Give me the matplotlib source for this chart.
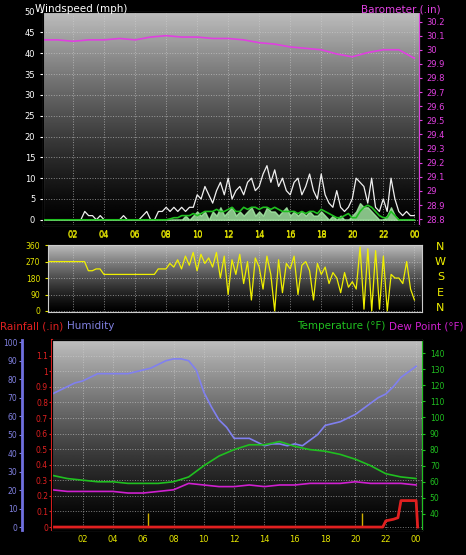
import matplotlib.pyplot as plt
import numpy as np

# quarter-hour readings
t_q = np.linspace(0, 24, 97)
gust = [0,0,0,0, 0,0,0,0, 0,0,0,2,
        1,1,0,1, 0,0,0,0, 0,1,0,0,
        0,0,1,2, 0,0,2,2, 3,2,3,2,
        3,2,3,3, 6,5,8,6, 4,7,9,6,
        10,5,7,8, 6,9,10,7, 8,11,13,9,
        12,8,10,7, 6,9,10,6, 8,11,7,5,
        11,6,4,3, 7,3,2,3, 5,10,9,8,
        4,10,3,2, 5,2,10,5, 2,1,2,1,
        1]
avg = [0]*32 + [0,0.2,0.5,0.5, 1,1,1,1.5, 1,1.5,2,2, 2,2.5,2,2,
        2.5,3,2,2, 3,2.5,3,3, 2.5,3,3,2.5, 3,2.5,2,2,
        2,2,1.5,2, 1.5,2,2,1.5, 2.5,2,1.5,1, 0.5,0.5,1,1.5,
        0.5,0.5,2,3, 3.5,3,2,1, 0.5,0.5,2,1, 0,0,0,0, 0]
speed = [0]*36 + [0,1,0,1, 2,1,2,0, 2,1,3,1, 2,3,1,2, 1,2,3,1,
        2,1,3,2, 2,1,2,3, 1,2,1,2, 1,2,1,1, 2,1,0,1,
        0,1,0,0, 1,2,4,3, 3,2,1,0, 0,1,3,1, 0,0,0,0, 0]
direction = [270]*12 + [220,220,230,230] + [200]*12 + [200,200,230,230,
        230,260,240,280, 230,300,250,320, 220,310,260,290, 240,320,180,300,
        90,280,200,310, 150,270,60,290, 240,120,300,200, 0,280,100,260,
        230,300,90,250, 270,220,60,260, 200,240,150,210, 180,100,210,130,
        160,120,350,10, 340,0,330,10, 300,0,200,180, 180,150,270,120, 60]

# hourly readings
t_h = np.arange(25)
baro = [30.07,30.07,30.06,30.07,30.07,30.08,30.07,30.09,30.10,30.09,30.09,30.08,
        30.08,30.07,30.05,30.04,30.02,30.01,30.00,29.97,29.95,29.98,30.00,30.00,29.94]
temp = [64,62,61,60,60,59,59,59,60,63,70,76,80,83,83,85,82,80,79,77,74,70,65,63,62]
dew = [55,54,54,54,54,53,53,54,55,59,58,57,57,58,57,58,58,59,59,59,60,59,59,59,58]
# half-hourly humidity
t_half = np.linspace(0, 24, 49)
hum = [72,74,76,78,79,81,83,83,83,83,83,84,85,86,88,90,91,91,90,85,
       73,65,58,54,48,48,48,46,44,45,45,44,45,44,47,50,55,56,57,59,
       61,64,67,70,72,76,81,84,87]
t_rain = [0, 21.8, 22.0, 22.5, 22.8, 23.0, 24.0, 24.1]
rain = [0, 0, 0.04, 0.05, 0.06, 0.17, 0.17, 0]
strikes = [6.3, 20.4]

BG = 'black'
fig = plt.figure(figsize=(4.66, 5.55), dpi=100, facecolor=BG)
fs = 6
grad = (np.linspace(0.8, 0.0, 256) ** 1.3).reshape(-1, 1)


def style(ax):
    ax.imshow(grad, cmap='gray', vmin=0, vmax=1, aspect='auto',
              extent=[0, 1, 0, 1], transform=ax.transAxes, zorder=0)
    ax.grid(True, color='#d0d0d0', ls=':', lw=0.7, alpha=0.6)
    for s in ax.spines.values():
        s.set_color('#cccccc')
    ax.set_xticks(range(2, 25, 2))
    ax.set_xticklabels(['%02d' % (h % 24) for h in range(2, 25, 2)])
    ax.tick_params(axis='x', colors='#e6e600', labelsize=fs, length=0)


# wind speed
ax1 = fig.add_axes([0.092, 0.595, 0.807, 0.384])
style(ax1)
ax1.plot(t_q, gust, color='#f0f0f0', lw=0.9, zorder=3)
ax1.fill_between(t_q, speed, color='#a8f0a8', alpha=0.8, zorder=2)
ax1.plot(t_q, avg, color='#20c020', lw=1.2, zorder=4)
ax1.set_xlim(0.05, 24.3)
ax1.set_ylim(-1.2, 50)
ax1.set_yticks(range(0, 51, 5))
ax1.tick_params(axis='y', colors='white', labelsize=fs, length=2)
axb = ax1.twinx()
axb.plot(t_h, baro, color='#e040e0', lw=1.2)
axb.set_ylim(28.76, 30.27)
axb.set_yticks(np.round(np.arange(28.8, 30.21, 0.1), 1))
axb.set_yticklabels([('%.1f' % v).rstrip('0').rstrip('.') for v in np.arange(28.8, 30.21, 0.1)])
axb.tick_params(axis='y', colors='#e040e0', labelsize=fs, length=2)
axb.spines['right'].set_color('#e040e0')
fig.text(0.075, 0.992, 'Windspeed (mph)', color='white', fontsize=7.5, va='top')
fig.text(0.945, 0.992, 'Barometer (.in)', color='#e040e0', fontsize=7.5, va='top', ha='right')

# wind direction
ax2 = fig.add_axes([0.103, 0.438, 0.803, 0.121])
style(ax2)
ax2.plot(t_q, direction, color='#f0f000', lw=0.9, zorder=3)
ax2.set_xlim(0.4, 24.5)
ax2.set_ylim(-5, 362)
ax2.set_yticks([0, 90, 180, 270, 360])
ax2.tick_params(axis='y', colors='#e6e600', labelsize=fs - 0.5, length=2)
ax2.xaxis.tick_top()
for i, lab in enumerate(['N', 'W', 'S', 'E', 'N']):
    fig.text(0.945, 0.555 - i * 0.0275, lab, color='#f0f000', fontsize=8, ha='center', va='center')

# bottom panel
ax3 = fig.add_axes([0.112, 0.045, 0.794, 0.342])
style(ax3)
ax3.set_xlim(0, 24.4)
ax3.set_ylim(-0.019, 1.2)
ax3.set_yticks(np.round(np.arange(0, 1.11, 0.1), 1))
ax3.set_yticklabels([('%.1f' % v).rstrip('0').rstrip('.') for v in np.arange(0, 1.11, 0.1)])
ax3.tick_params(axis='y', colors='#e02020', labelsize=fs - 0.5, length=2, pad=1)
ax3.spines['left'].set_color('#e02020')
ax3.spines['left'].set_linewidth(1.5)
ax3.vlines(strikes, 0, 0.09, color='#d0b000', lw=1, zorder=3)
ax3.plot(t_rain, rain, color='#e02020', lw=2, zorder=5)

axh = ax3.twinx()
axh.yaxis.tick_left()
axh.spines['left'].set_position(('outward', 22))
axh.spines['left'].set_color('#7070e0')
axh.spines['left'].set_linewidth(2)
axh.spines['right'].set_visible(False)
axh.set_ylim(-1.6, 101.1)
axh.set_yticks(range(0, 101, 10))
axh.tick_params(axis='y', colors='#8080e0', labelsize=fs - 0.5, length=2, pad=1)
axh.plot(t_half, hum, color='#8080f0', lw=1.2)

axt = ax3.twinx()
axt.set_ylim(30, 148)
axt.set_yticks(range(40, 141, 10))
axt.tick_params(axis='y', colors='#20c020', labelsize=fs - 0.5, length=2)
axt.spines['right'].set_color('#20c020')
axt.plot(t_h, temp, color='#20c020', lw=1.2)
axt.plot(t_h, dew, color='#d020d0', lw=1.2)

fig.text(0.0, 0.412, 'Rainfall (.in)', color='#e02020', fontsize=7.5, va='center')
fig.text(0.143, 0.412, 'Humidity', color='#8080e0', fontsize=7.5, va='center')
fig.text(0.827, 0.412, 'Temperature (\u00b0F)', color='#20c020', fontsize=7.5, va='center', ha='right')
fig.text(0.995, 0.412, 'Dew Point (\u00b0F)', color='#d020d0', fontsize=7.5, va='center', ha='right')

fig.savefig('out.png', dpi=100, facecolor=BG)
